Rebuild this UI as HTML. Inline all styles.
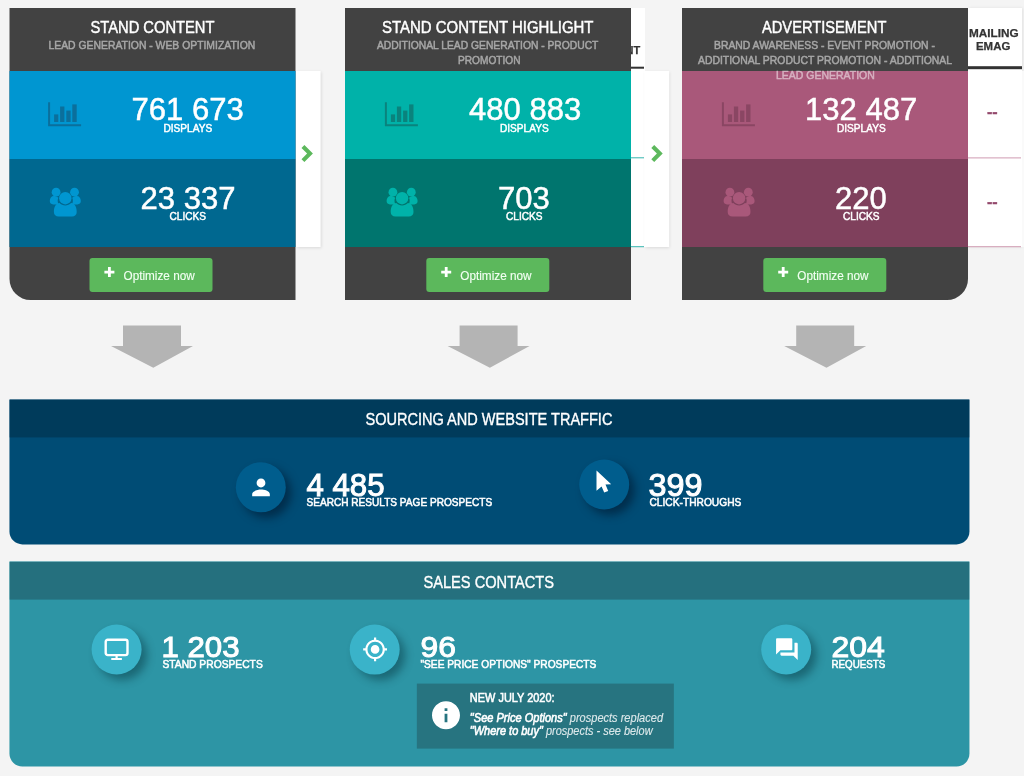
<!DOCTYPE html><html lang="en"><head><meta charset="utf-8"><title>Statistics overview</title><style>
html,body{margin:0;padding:0}
body{width:1024px;height:776px;overflow:hidden;background:#f4f4f4;position:relative;font-family:"Liberation Sans",Arial,sans-serif;color:#fff}
div,svg,.t{position:absolute;box-sizing:border-box}
.t{white-space:nowrap;line-height:1;transform-origin:0 0;display:block}
.i{display:block;overflow:visible}
.card{background:#424242;width:286px;height:292px;top:8px}
.hd{left:0;top:0;width:286px;height:63px;z-index:2}
.r1,.r2{left:0;width:286px;height:88px}
.r1{top:63px}.r2{top:151px}
.ft{left:0;top:239px;width:286px;height:53px}
.btn .t{-webkit-text-stroke:.15px currentColor}
.btn{left:80px;top:11px;width:123px;height:34px;background:#5cb85c;border-radius:3px}
.c1{left:9px;transform:translateX(.5px);border-bottom-left-radius:21px}
.c2{left:345px}
.c3{left:682px;border-bottom-right-radius:21px}
.c1 .r1{background:#0096d1}.c1 .r2{background:#006890}
.c2 .r1{background:#00b2a9}.c2 .r2{background:#00756e}
.c3 .r1{background:#a9587a}.c3 .r2{background:#7f405c}
.sub{opacity:.53}
.t{-webkit-text-stroke:.35px currentColor}
.t.ns{-webkit-text-stroke:.25px currentColor}
.hd .t{-webkit-text-stroke:.45px currentColor}
.r1 .t,.r2 .t{-webkit-text-stroke:.5px currentColor}
.t.pn{-webkit-text-stroke:1px currentColor}
.t.pl{-webkit-text-stroke:.55px currentColor}
.chev{background:#fff;width:25px;height:176px;top:71px;box-shadow:1px 1px 3px rgba(0,0,0,.11)}
.strip{background:#fff;top:8px;height:239px}
.hl{height:2px;background:#333;top:67px}
.panel{left:9px;width:960px;border-radius:0 0 13px 13px;overflow:hidden}
.ph{left:0;top:0;width:100%;height:38px}
.src{top:399px;height:145px;transform:translate(.45px,.4px);background:#004c75}.src .ph{background:#003b5b}
.sal{top:561px;height:205px;transform:translate(.45px,.6px);background:#2d95a5}.sal .ph{background:#25707e}
.circ{width:50px;height:50px;border-radius:50%}
.src .circ{background:#005d8d;box-shadow:5.5px 5.5px 8px rgba(0,15,35,.5)}
.sal .circ{background:#3ab3c9;box-shadow:5.5px 5.5px 8px rgba(0,40,50,.42)}
.note{left:407px;top:122px;width:257px;height:65px;transform:translateX(.4px);background:#277480}
.t.it{-webkit-text-stroke:.12px currentColor;color:rgba(255,255,255,.82)}
.q{color:#fff;-webkit-text-stroke:.6px #fff}
.dash{width:4.6px;height:2px;background:#a4537c}
</style></head><body>
<div class="strip" style="left:631px;width:14px"></div>
<span class="t ns" style="left:587.20px;top:44.57px;font-size:11.5px;transform:scaleX(0.9558);font-weight:700;color:#333;">CONTENT</span>
<div class="hl" style="left:631px;width:13px;transform:translateY(-.3px)"></div>
<div style="left:631px;top:157px;width:13px;height:1px;transform:translateY(.3px);background:#35b5ae"></div>
<div style="left:631px;top:246px;width:13px;height:1px;transform:translateY(.2px);background:#35b5ae"></div>
<div class="strip" style="left:968px;width:54px;box-shadow:1px 0 3px rgba(0,0,0,.08)"></div>
<span class="t ns" style="left:969.30px;top:27.99px;font-size:11px;transform:scaleX(1.0679);font-weight:700;color:#333;">MAILING</span>
<span class="t ns" style="left:976.30px;top:41.29px;font-size:11px;transform:scaleX(1.0387);font-weight:700;color:#333;">EMAG</span>
<div class="hl" style="left:968px;width:54px;top:66px;height:3px;transform:translateY(.2px)"></div>
<div style="left:968px;top:157px;width:53px;height:1px;transform:translateY(.4px);background:#cf9bb1"></div>
<div style="left:968px;top:246px;width:53px;height:1px;transform:translateY(.2px);background:#cf9bb1"></div>
<span class="t " style="left:986.80px;top:104.10px;font-size:15px;transform:scaleX(1.0705);font-weight:700;color:#93486c;">--</span>
<span class="t " style="left:986.80px;top:193.70px;font-size:15px;transform:scaleX(1.0705);font-weight:700;color:#93486c;">--</span>
<div class="chev" style="left:1022px;width:6px;background:#fafafa;box-shadow:none"></div>
<div class="chev" style="left:295px;top:71px;transform:translate(0.6px,0px)"><svg class="i" style="left:5px;top:74px;transform:translate(0.9px,0.1px)" width="12" height="17" viewBox="0 0 12 17" ><path fill="#5cb85c" d="M2.900 0L0 2.900 5.600 8.500 0 14.100 2.900 17 11.400 8.500z"/></svg></div>
<div class="chev" style="left:644px;top:71px;transform:translate(0.2px,0px)"><svg class="i" style="left:7px;top:74px;transform:translate(0.1px,0.1px)" width="12" height="17" viewBox="0 0 12 17" ><path fill="#5cb85c" d="M2.900 0L0 2.900 5.600 8.500 0 14.100 2.900 17 11.400 8.500z"/></svg></div>
<div class="card c1">
<div class="hd">
<span class="t " style="left:80.50px;top:11.00px;font-size:16.3px;transform:scaleX(0.9036);">STAND CONTENT</span>
<span class="t sub" style="left:39.00px;top:32.20px;font-size:11.4px;transform:scaleX(0.9115);">LEAD GENERATION - WEB OPTIMIZATION</span>
</div>
<div class="r1"><svg class="i" style="left:38px;top:31px;transform:translate(0.6px,0.2px)" width="33" height="24" viewBox="0 0 33 24" ><path fill="#0b6f9c" d="M0 0h2v22h31v2H0z"/><rect fill="#0b6f9c" x="6" y="12.2" width="4.2" height="7.6"/><rect fill="#0b6f9c" x="12" y="4.3" width="4.3" height="15.5"/><rect fill="#0b6f9c" x="18.2" y="8.4" width="4.3" height="11.4"/><rect fill="#0b6f9c" x="24.2" y="2.2" width="4.4" height="17.6"/></svg><span class="t " style="left:121.97px;top:23.05px;font-size:31.6px;transform:scaleX(0.9820);">761 673</span><span class="t " style="left:153.96px;top:51.87px;font-size:11.5px;transform:scaleX(0.8790);">DISPLAYS</span></div>
<div class="r2"><svg class="i" style="left:40px;top:28px;transform:translate(0.1px,0.6px)" width="32" height="29" viewBox="0 0 32 29" ><g fill="#0096d1"><circle cx="6.5" cy="4.6" r="4.4"/><circle cx="24.9" cy="4.6" r="4.4"/><path d="M0.2 13.5c0-3 1.6-5 4-5 1.6 0 3.2.5 4.6 1.6-1 2-1 4.6.3 6.7H3.6c-2 0-3.4-1.2-3.4-3.3z"/><path d="M31.2 13.5c0-3-1.6-5-4-5-1.6 0-3.2.5-4.6 1.6 1 2 1 4.6-.3 6.7h5.5c2 0 3.400-1.200 3.400-3.300z"/><circle cx="15.7" cy="10.6" r="6.200"/><path d="M4.300 24.300c0-5 2.300-8.800 5.600-8.800 1.500 1.500 3.500 2.500 5.800 2.500s4.300-1 5.800-2.500c3.300 0 5.600 3.800 5.600 8.800 0 2.900-1.900 4.500-4.700 4.500H9c-2.800 0-4.700-1.600-4.700-4.500z"/></g></svg><span class="t " style="left:131.08px;top:23.55px;font-size:31.6px;transform:scaleX(0.9820);">23 337</span><span class="t " style="left:160.15px;top:51.87px;font-size:11.5px;transform:scaleX(0.8790);">CLICKS</span></div>
<div class="ft"><div class="btn" style="left:80px;top:11px"><svg class="i" style="left:14px;top:9px;transform:translate(0.9px,0.1px)" width="10" height="10" viewBox="0 0 10 10" ><path fill="#fff" d="M3.600 0h2.800v3.600H10v2.800H6.400V10H3.600V6.400H0V3.600h3.600z"/></svg><span class="t " style="left:34.20px;top:10.80px;font-size:13px;transform:scaleX(0.9047);color:#f1fff1;">Optimize now</span></div></div>
</div>
<div class="card c2">
<div class="hd">
<span class="t " style="left:37.40px;top:11.00px;font-size:16.3px;transform:scaleX(0.9192);">STAND CONTENT HIGHLIGHT</span>
<span class="t sub" style="left:31.70px;top:32.20px;font-size:11.4px;transform:scaleX(0.9039);">ADDITIONAL LEAD GENERATION - PRODUCT</span>
<span class="t sub" style="left:112.70px;top:46.95px;font-size:11.4px;transform:scaleX(0.8898);">PROMOTION</span>
</div>
<div class="r1"><svg class="i" style="left:39px;top:31px;transform:translate(0.9px,0.2px)" width="33" height="24" viewBox="0 0 33 24" ><path fill="#0a837d" d="M0 0h2v22h31v2H0z"/><rect fill="#0a837d" x="6" y="12.2" width="4.2" height="7.6"/><rect fill="#0a837d" x="12" y="4.3" width="4.3" height="15.5"/><rect fill="#0a837d" x="18.2" y="8.4" width="4.3" height="11.4"/><rect fill="#0a837d" x="24.2" y="2.2" width="4.4" height="17.6"/></svg><span class="t " style="left:123.76px;top:23.05px;font-size:31.6px;transform:scaleX(0.9820);">480 883</span><span class="t " style="left:155.26px;top:51.87px;font-size:11.5px;transform:scaleX(0.8790);">DISPLAYS</span></div>
<div class="r2"><svg class="i" style="left:41px;top:28px;transform:translate(0.4px,0.6px)" width="32" height="29" viewBox="0 0 32 29" ><g fill="#00b2a9"><circle cx="6.5" cy="4.6" r="4.4"/><circle cx="24.9" cy="4.6" r="4.4"/><path d="M0.2 13.5c0-3 1.6-5 4-5 1.6 0 3.2.5 4.6 1.6-1 2-1 4.6.3 6.7H3.6c-2 0-3.4-1.2-3.4-3.3z"/><path d="M31.2 13.5c0-3-1.6-5-4-5-1.6 0-3.2.5-4.6 1.6 1 2 1 4.6-.3 6.7h5.5c2 0 3.400-1.200 3.400-3.300z"/><circle cx="15.7" cy="10.6" r="6.200"/><path d="M4.300 24.300c0-5 2.300-8.800 5.600-8.800 1.500 1.500 3.500 2.500 5.800 2.500s4.300-1 5.800-2.500c3.300 0 5.600 3.800 5.600 8.800 0 2.900-1.900 4.500-4.700 4.500H9c-2.800 0-4.700-1.600-4.700-4.500z"/></g></svg><span class="t " style="left:153.46px;top:23.55px;font-size:31.6px;transform:scaleX(0.9820);">703</span><span class="t " style="left:161.45px;top:51.87px;font-size:11.5px;transform:scaleX(0.8790);">CLICKS</span></div>
<div class="ft"><div class="btn" style="left:81px;top:11px;transform:translate(0.3px,0px)"><svg class="i" style="left:14px;top:9px;transform:translate(0.9px,0.1px)" width="10" height="10" viewBox="0 0 10 10" ><path fill="#fff" d="M3.600 0h2.800v3.600H10v2.800H6.400V10H3.600V6.400H0V3.600h3.600z"/></svg><span class="t " style="left:34.20px;top:10.80px;font-size:13px;transform:scaleX(0.9047);color:#f1fff1;">Optimize now</span></div></div>
</div>
<div class="card c3">
<div class="hd">
<span class="t " style="left:80.10px;top:11.00px;font-size:16.3px;transform:scaleX(0.9004);">ADVERTISEMENT</span>
<span class="t sub" style="left:31.70px;top:32.20px;font-size:11.4px;transform:scaleX(0.9103);">BRAND AWARENESS - EVENT PROMOTION -</span>
<span class="t sub" style="left:15.60px;top:46.95px;font-size:11.4px;transform:scaleX(0.9124);">ADDITIONAL PRODUCT PROMOTION - ADDITIONAL</span>
<span class="t sub" style="left:94.00px;top:61.70px;font-size:11.4px;transform:scaleX(0.9201);">LEAD GENERATION</span>
</div>
<div class="r1"><svg class="i" style="left:39px;top:31px;transform:translate(0.9px,0.2px)" width="33" height="24" viewBox="0 0 33 24" ><path fill="#8a4663" d="M0 0h2v22h31v2H0z"/><rect fill="#8a4663" x="6" y="12.2" width="4.2" height="7.6"/><rect fill="#8a4663" x="12" y="4.3" width="4.3" height="15.5"/><rect fill="#8a4663" x="18.2" y="8.4" width="4.3" height="11.4"/><rect fill="#8a4663" x="24.2" y="2.2" width="4.4" height="17.6"/></svg><span class="t " style="left:123.27px;top:23.05px;font-size:31.6px;transform:scaleX(0.9820);">132 487</span><span class="t " style="left:155.26px;top:51.87px;font-size:11.5px;transform:scaleX(0.8790);">DISPLAYS</span></div>
<div class="r2"><svg class="i" style="left:41px;top:28px;transform:translate(0.4px,0.6px)" width="32" height="29" viewBox="0 0 32 29" ><g fill="#a9587a"><circle cx="6.5" cy="4.6" r="4.4"/><circle cx="24.9" cy="4.6" r="4.4"/><path d="M0.2 13.5c0-3 1.6-5 4-5 1.6 0 3.2.5 4.6 1.6-1 2-1 4.6.3 6.7H3.6c-2 0-3.4-1.2-3.4-3.3z"/><path d="M31.2 13.5c0-3-1.6-5-4-5-1.6 0-3.2.5-4.6 1.6 1 2 1 4.6-.3 6.7h5.5c2 0 3.400-1.200 3.400-3.300z"/><circle cx="15.7" cy="10.6" r="6.200"/><path d="M4.300 24.300c0-5 2.300-8.800 5.600-8.800 1.500 1.500 3.500 2.500 5.800 2.500s4.300-1 5.800-2.500c3.300 0 5.600 3.800 5.600 8.800 0 2.900-1.900 4.500-4.700 4.500H9c-2.800 0-4.700-1.600-4.700-4.500z"/></g></svg><span class="t " style="left:153.46px;top:23.55px;font-size:31.6px;transform:scaleX(0.9820);">220</span><span class="t " style="left:161.45px;top:51.87px;font-size:11.5px;transform:scaleX(0.8790);">CLICKS</span></div>
<div class="ft"><div class="btn" style="left:81px;top:11px;transform:translate(0.3px,0px)"><svg class="i" style="left:14px;top:9px;transform:translate(0.9px,0.1px)" width="10" height="10" viewBox="0 0 10 10" ><path fill="#fff" d="M3.600 0h2.800v3.600H10v2.800H6.400V10H3.600V6.400H0V3.600h3.600z"/></svg><span class="t " style="left:34.20px;top:10.80px;font-size:13px;transform:scaleX(0.9047);color:#f1fff1;">Optimize now</span></div></div>
</div>
<svg class="i" style="left:111px;top:325px;transform:translate(0px,0.5px)" width="82" height="42.2" viewBox="0 0 82 42.200" ><path fill="#b4b4b4" d="M12 0h58v20.500h12L42.300 42.200 0 20.500h12z"/></svg>
<svg class="i" style="left:447px;top:325px;transform:translate(0.6px,0.5px)" width="82" height="42.2" viewBox="0 0 82 42.200" ><path fill="#b4b4b4" d="M12 0h58v20.500h12L42.300 42.200 0 20.500h12z"/></svg>
<svg class="i" style="left:784px;top:325px;transform:translate(0.2px,0.5px)" width="82" height="42.2" viewBox="0 0 82 42.200" ><path fill="#b4b4b4" d="M12 0h58v20.500h12L42.300 42.200 0 20.500h12z"/></svg>
<div class="panel src"><div class="ph"><span class="t " style="left:355.55px;top:12.96px;font-size:16px;transform:scaleX(0.9088);">SOURCING AND WEBSITE TRAFFIC</span></div>
<div class="circ" style="left:226px;top:62px;transform:translate(0.35px,0.9px)"><svg class="i" style="left:11px;top:11px;transform:translate(0.95px,0.85px)" width="26.5" height="26.5" viewBox="0 0 24 24" ><path fill="#fff" d="M12 12c2.21 0 4-1.79 4-4s-1.79-4-4-4-4 1.79-4 4 1.79 4 4 4zm0 2c-2.67 0-8 1.340-8 4v2h16v-2c0-2.660-5.330-4-8-4z"/></svg></div>
<span class="t pn" style="left:297.15px;top:70.85px;font-size:30.6px;transform:scaleX(1.0193);">4 485</span>
<span class="t pl" style="left:296.55px;top:97.77px;font-size:11.5px;transform:scaleX(0.8771);">SEARCH RESULTS PAGE PROSPECTS</span>
<div class="circ" style="left:569px;top:60px;transform:translate(0.75px,0.1px)"><svg class="i" style="left:17px;top:10px;transform:translate(0.1px,0.8px)" width="15" height="23" viewBox="0 0 15 23" ><path fill="#fff" d="M0.200 0.200V20.500L5.300 16.200 7.900 22.200 11.900 20.600 9.200 14.300 14.900 14z"/></svg></div>
<span class="t pn" style="left:639.19px;top:71.05px;font-size:30.6px;transform:scaleX(1.0565);">399</span>
<span class="t pl" style="left:639.75px;top:97.67px;font-size:11.5px;transform:scaleX(0.8879);">CLICK-THROUGHS</span>
</div>
<div class="panel sal"><div class="ph"><span class="t " style="left:414.35px;top:12.86px;font-size:16px;transform:scaleX(0.9137);">SALES CONTACTS</span></div>
<div class="circ" style="left:82px;top:62px;transform:translate(0.15px,0.9px)"><svg class="i" style="left:12px;top:14px;transform:translate(0.9px,0.0px)" width="24.2" height="21.6" viewBox="0 0 24.200 21.600" ><rect x="1.200" y="1.200" width="21.800" height="15.400" rx="2" ry="2" fill="none" stroke="#fff" stroke-width="2.400"/><rect x="11" y="17" width="2.200" height="3" fill="#fff"/><rect x="6.600" y="19.400" width="11" height="2.200" rx=".8" fill="#fff"/></svg></div>
<span class="t pn" style="left:152.46px;top:70.47px;font-size:29.8px;transform:scaleX(1.0473);">1 203</span>
<span class="t pl" style="left:152.75px;top:97.17px;font-size:11.5px;transform:scaleX(0.8936);">STAND PROSPECTS</span>
<div class="circ" style="left:340px;top:63px;transform:translate(0.25px,0.0px)"><svg class="i" style="left:12px;top:11px;transform:translate(0.4px,0.8px)" width="26" height="26" viewBox="0 0 24 24" ><path fill="#fff" d="M12 8c-2.210 0-4 1.790-4 4s1.790 4 4 4 4-1.790 4-4-1.790-4-4-4zm8.940 3c-.46-4.170-3.770-7.480-7.940-7.940V1h-2v2.060C6.830 3.520 3.520 6.830 3.060 11H1v2h2.060c.46 4.170 3.770 7.480 7.940 7.940V23h2v-2.060c4.170-.46 7.480-3.770 7.940-7.940H23v-2h-2.060zM12 19c-3.870 0-7-3.130-7-7s3.130-7 7-7 7 3.130 7 7-3.130 7-7 7z"/></svg></div>
<span class="t pn" style="left:411.08px;top:70.47px;font-size:29.8px;transform:scaleX(1.0674);">96</span>
<span class="t pl" style="left:410.85px;top:97.37px;font-size:11.5px;transform:scaleX(0.8858);">"SEE PRICE OPTIONS" PROSPECTS</span>
<div class="circ" style="left:751px;top:62px;transform:translate(0.75px,0.9px)"><svg class="i" style="left:12px;top:11px;transform:translate(0.7px,0.7px)" width="26" height="26" viewBox="0 0 24 24" ><path fill="#fff" d="M21 6h-2v9H6v2c0 .55.45 1 1 1h11l4 4V7c0-.55-.45-1-1-1zm-4 6V3c0-.55-.45-1-1-1H3c-.55 0-1 .45-1 1v14l4-4h10c.55 0 1-.45 1-1z"/></svg></div>
<span class="t pn" style="left:821.88px;top:70.47px;font-size:29.8px;transform:scaleX(1.0718);">204</span>
<span class="t pl" style="left:822.25px;top:97.17px;font-size:11.5px;transform:scaleX(0.8523);">REQUESTS</span>
<div class="note"><svg class="i" style="left:12px;top:14px;transform:translate(0.35px,0.8px)" width="33.6" height="33.6" viewBox="0 0 24 24" ><path fill="#fff" d="M12 2C6.480 2 2 6.480 2 12s4.480 10 10 10 10-4.480 10-10S17.520 2 12 2zm1 15h-2v-6h2v6zm0-8h-2V7h2v2z"/></svg>
<span class="t pl" style="left:52.95px;top:8.34px;font-size:12px;transform:scaleX(0.9115);">NEW JULY 2020:</span>
<span class="t it" style="left:52.63px;top:28.24px;font-size:12px;transform:scaleX(0.9202);font-style:italic;"><span class="q">"See Price Options"</span> prospects replaced</span>
<span class="t it" style="left:52.64px;top:41.14px;font-size:12px;transform:scaleX(0.9137);font-style:italic;"><span class="q">"Where to buy"</span> prospects - see below</span>
</div></div>
</body></html>
